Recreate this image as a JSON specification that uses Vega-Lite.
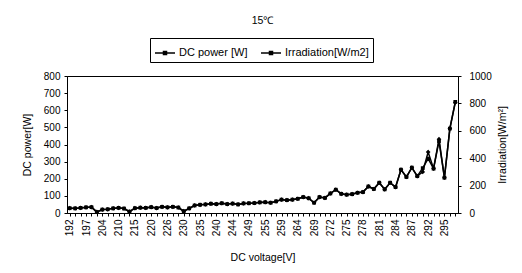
{
  "$schema": "https://vega.github.io/schema/vega-lite/v6.json",
  "autosize": "none",
  "width": 391,
  "height": 137,
  "padding": {"left": 67, "top": 76, "right": 64, "bottom": 60},
  "background": "white",
  "config": {
    "font": "Liberation Sans",
    "view": {"stroke": "black", "strokeWidth": 1},
    "axis": {"labelColor": "black", "titleColor": "black", "domainColor": "black", "tickColor": "black", "grid": false, "labelFont": "Liberation Sans", "titleFont": "Liberation Sans", "titleFontWeight": "normal", "labelFontSize": 10, "titleFontSize": 10.5, "tickSize": 3}
  },
  "title": {"text": "15℃", "fontSize": 10.5, "fontWeight": "normal", "color": "black", "anchor": "middle", "offset": 11, "font": "Liberation Sans"},
  "data": {
    "values": [
      {"v": 192, "p": 28, "irr": 35}, {"v": 194, "p": 27, "irr": 34}, {"v": 195, "p": 30, "irr": 37},
      {"v": 197, "p": 33, "irr": 41}, {"v": 199, "p": 34, "irr": 43}, {"v": 202, "p": 5, "irr": 8},
      {"v": 204, "p": 20, "irr": 25}, {"v": 206, "p": 22, "irr": 27}, {"v": 208, "p": 27, "irr": 34},
      {"v": 210, "p": 30, "irr": 37}, {"v": 212, "p": 26, "irr": 33}, {"v": 213, "p": 8, "irr": 10},
      {"v": 215, "p": 28, "irr": 35}, {"v": 217, "p": 31, "irr": 39}, {"v": 218, "p": 30, "irr": 37},
      {"v": 220, "p": 34, "irr": 43}, {"v": 222, "p": 29, "irr": 36}, {"v": 224, "p": 36, "irr": 45},
      {"v": 226, "p": 33, "irr": 41}, {"v": 227, "p": 36, "irr": 45}, {"v": 228, "p": 32, "irr": 40},
      {"v": 230, "p": 10, "irr": 13}, {"v": 232, "p": 27, "irr": 34}, {"v": 233, "p": 44, "irr": 55},
      {"v": 235, "p": 48, "irr": 60}, {"v": 237, "p": 50, "irr": 63}, {"v": 238, "p": 54, "irr": 68},
      {"v": 240, "p": 52, "irr": 65}, {"v": 241, "p": 57, "irr": 71}, {"v": 243, "p": 52, "irr": 65},
      {"v": 244, "p": 55, "irr": 69}, {"v": 246, "p": 50, "irr": 63}, {"v": 247, "p": 56, "irr": 70},
      {"v": 249, "p": 57, "irr": 71}, {"v": 251, "p": 58, "irr": 73}, {"v": 253, "p": 62, "irr": 78},
      {"v": 255, "p": 63, "irr": 79}, {"v": 256, "p": 60, "irr": 75}, {"v": 257, "p": 68, "irr": 85},
      {"v": 259, "p": 78, "irr": 98}, {"v": 261, "p": 75, "irr": 94}, {"v": 262, "p": 78, "irr": 98},
      {"v": 264, "p": 83, "irr": 104}, {"v": 266, "p": 93, "irr": 116}, {"v": 267, "p": 86, "irr": 108},
      {"v": 269, "p": 60, "irr": 75}, {"v": 270, "p": 93, "irr": 116}, {"v": 271, "p": 88, "irr": 110},
      {"v": 272, "p": 114, "irr": 143}, {"v": 273, "p": 136, "irr": 170}, {"v": 274, "p": 112, "irr": 140},
      {"v": 275, "p": 107, "irr": 134}, {"v": 276, "p": 110, "irr": 138}, {"v": 277, "p": 118, "irr": 148},
      {"v": 278, "p": 122, "irr": 153}, {"v": 279, "p": 155, "irr": 194}, {"v": 280, "p": 140, "irr": 175},
      {"v": 281, "p": 177, "irr": 221}, {"v": 282, "p": 138, "irr": 173}, {"v": 283, "p": 177, "irr": 221},
      {"v": 284, "p": 151, "irr": 189}, {"v": 285, "p": 253, "irr": 316}, {"v": 286, "p": 210, "irr": 263},
      {"v": 287, "p": 265, "irr": 331}, {"v": 289, "p": 215, "irr": 269}, {"v": 290, "p": 262, "irr": 300},
      {"v": 292, "p": 318, "irr": 445}, {"v": 293, "p": 259, "irr": 324}, {"v": 294, "p": 420, "irr": 539},
      {"v": 295, "p": 206, "irr": 258}, {"v": 296, "p": 493, "irr": 616}, {"v": 297, "p": 649, "irr": 807}
    ]
  },
  "encoding": {
    "x": {
      "field": "v", "type": "ordinal",
      "scale": {"type": "point", "padding": 0.5},
      "axis": {
        "title": "DC voltage[V]", "labelAngle": -90, "labelAlign": "right", "labelBaseline": "middle",
        "labelOverlap": false, "labelPadding": 3, "titlePadding": 17,
        "labelExpr": "indexof([192,197,204,210,215,220,226,230,235,240,244,249,255,259,264,269,272,275,278,281,284,287,292,295], datum.value) >= 0 ? datum.label : ''"
      }
    }
  },
  "layer": [
    {
      "mark": {"type": "line", "strokeWidth": 1.5, "point": {"filled": true, "shape": "square", "size": 14}},
      "encoding": {
        "y": {"field": "p", "type": "quantitative", "scale": {"domain": [0, 800]},
          "axis": {"title": "DC power[W]", "values": [0,100,200,300,400,500,600,700,800], "labelPadding": 4, "titlePadding": 11}},
        "color": {"datum": "DC power [W]", "type": "nominal",
          "scale": {"domain": ["DC power [W]", "Irradiation[W/m2]"], "range": ["black", "black"]},
          "legend": {"title": null, "orient": "none", "legendX": 83, "legendY": -38, "direction": "horizontal",
            "strokeColor": "black", "padding": 4, "labelFontSize": 11, "labelColor": "black", "labelFont": "Liberation Sans",
            "symbolType": "M-1,0L1,0M-0.15,-0.15L0.15,-0.15L0.15,0.15L-0.15,0.15Z", "symbolSize": 400, "symbolStrokeWidth": 1.5, "columnPadding": 10, "labelOffset": 3}}
      }
    },
    {
      "mark": {"type": "line", "strokeWidth": 1.5, "point": {"filled": true, "shape": "diamond", "size": 22}},
      "encoding": {
        "y": {"field": "irr", "type": "quantitative", "scale": {"domain": [0, 1000]},
          "axis": {"title": "Irradiation[W/m²]", "orient": "right", "format": "d", "titleAngle": 270, "values": [0,200,400,600,800,1000], "labelPadding": 8, "titlePadding": 16}},
        "color": {"datum": "Irradiation[W/m2]", "type": "nominal"}
      }
    }
  ],
  "resolve": {"scale": {"y": "independent"}, "axis": {"y": "independent"}}
}
